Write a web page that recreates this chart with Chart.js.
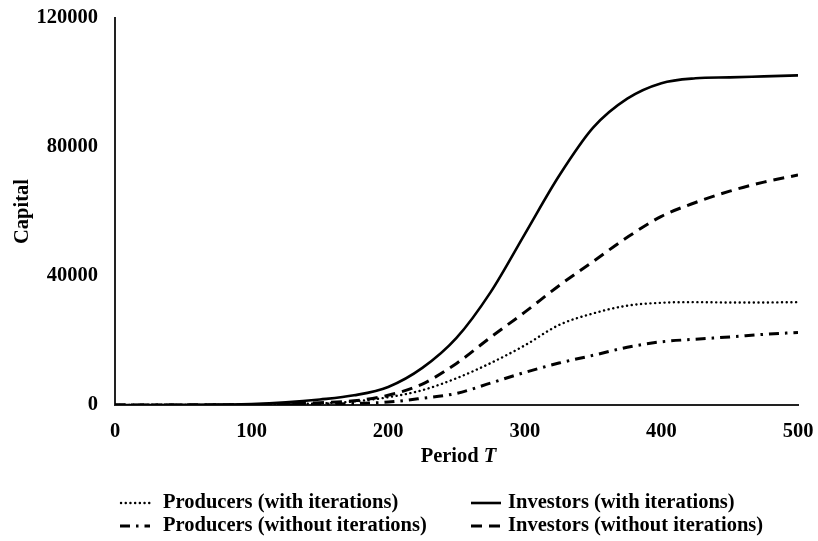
<!DOCTYPE html>
<html>
<head>
<meta charset="utf-8">
<script src="https://cdn.jsdelivr.net/npm/chart.js@4/dist/chart.umd.min.js"></script>
<style>
html,body{margin:0;padding:0;background:#fff;}
#wrap{width:818px;height:541px;position:relative;}
</style>
</head>
<body>
<div id="wrap"><canvas id="c" width="818" height="541"></canvas></div>
<script>
const periods = [0,25,50,75,100,125,150,175,200,225,250,275,300,325,350,375,400,425,450,475,500];
const producersWith = [0,0,0,30,100,250,500,1100,2400,4600,8300,13000,18500,24800,28400,30800,31700,31900,31800,31800,31900];
const producersWithout = [0,0,0,0,50,100,250,500,900,2100,3600,6800,10100,13000,15400,17900,19600,20400,21100,21900,22500];
const investorsWith = [0,0,50,150,300,800,1700,3000,5600,11500,20800,35000,53000,71000,86000,95000,99800,101300,101600,101900,102200];
const investorsWithout = [0,0,0,50,150,350,700,1300,3000,6500,12900,21000,28800,37000,44500,52000,58500,62800,66300,69100,71300];
const seriesNames = ['Producers (with iterations)','Producers (without iterations)','Investors (with iterations)','Investors (without iterations)'];
const xTicks = [0,100,200,300,400,500];
const yTicks = [0,40000,80000,120000];
const xTitle = 'Period ';
const xTitleItalic = 'T';
const yTitle = 'Capital';

const FONT = "'Liberation Serif','Times New Roman',serif";
const FS = 20.5;
function pts(arr){ return periods.map((p,i)=>({x:p,y:arr[i]})); }

const styles = [
  {borderDash:[0.1,4.6], borderWidth:2.4, lineCap:'round'},
  {borderDash:[10,6,2.5,6], borderWidth:3, lineCap:'butt'},
  {borderDash:[], borderWidth:2.6, lineCap:'butt'},
  {borderDash:[11,7], borderWidth:3, lineCap:'butt'}
];
const dataArrays = [producersWith, producersWithout, investorsWith, investorsWithout];

const datasets = dataArrays.map((arr,i)=>({
  label: seriesNames[i],
  data: pts(arr),
  borderColor:'#000',
  backgroundColor:'#000',
  borderWidth: styles[i].borderWidth,
  borderDash: styles[i].borderDash,
  borderCapStyle: styles[i].lineCap,
  pointRadius:0,
  cubicInterpolationMode:'monotone',
  fill:false
}));

const customPlugin = {
  id:'custom',
  afterDraw(chart){
    const ctx = chart.ctx;
    const area = chart.chartArea;
    ctx.save();
    ctx.fillStyle = '#000';
    ctx.font = "bold " + FS + "px " + FONT;
    ctx.textAlign = 'center';
    ctx.textBaseline = 'middle';
    ctx.save();
    ctx.translate(23, 211.5);
    ctx.rotate(-Math.PI/2);
    ctx.fillText(yTitle, 0, 0);
    ctx.restore();
    ctx.font = "bold " + FS + "px " + FONT;
    const w1 = ctx.measureText(xTitle).width;
    ctx.font = "italic bold " + FS + "px " + FONT;
    const w2 = ctx.measureText(xTitleItalic).width;
    const cx = (area.left + area.right)/2 + 2;
    let sx = cx - (w1+w2)/2;
    ctx.textAlign = 'left';
    ctx.font = "bold " + FS + "px " + FONT;
    ctx.fillText(xTitle, sx, 457);
    ctx.font = "italic bold " + FS + "px " + FONT;
    ctx.fillText(xTitleItalic, sx + w1, 457);
    const pos = [
      {x0:121, x1:150, tx:163, y:503},
      {x0:120, x1:150, tx:163, y:526},
      {x0:471, x1:501, tx:508, y:503},
      {x0:471, x1:501, tx:508, y:526}
    ];
    chart.data.datasets.forEach((ds,i)=>{
      const p = pos[i];
      ctx.beginPath();
      ctx.setLineDash(ds.borderDash || []);
      ctx.lineWidth = ds.borderWidth;
      ctx.lineCap = ds.borderCapStyle;
      ctx.strokeStyle = '#000';
      ctx.moveTo(p.x0, p.y);
      ctx.lineTo(p.x1, p.y);
      ctx.stroke();
      ctx.setLineDash([]);
      ctx.font = "bold " + FS + "px " + FONT;
      ctx.textAlign = 'left';
      ctx.textBaseline = 'middle';
      ctx.fillText(ds.label, p.tx, p.y);
    });
    ctx.restore();
  }
};

new Chart(document.getElementById('c'), {
  type:'line',
  data:{datasets},
  options:{
    responsive:false,
    animation:false,
    events:[],
    layout:{padding:{top:18,right:20,bottom:0,left:0}},
    plugins:{legend:{display:false},tooltip:{enabled:false},title:{display:false}},
    scales:{
      x:{
        type:'linear',
        min:0,max:500,
        afterBuildTicks(s){ s.ticks = xTicks.map(v=>({value:v})); },
        afterFit(s){ s.height = 136; s.paddingLeft = 0; s.paddingRight = 0; },
        grid:{display:false,drawTicks:false},
        border:{display:true,color:'#222',width:2},
        ticks:{color:'#000',padding:14,font:{family:FONT,size:FS,weight:'bold'},maxRotation:0,autoSkip:false}
      },
      y:{
        min:0,max:120000,
        afterBuildTicks(s){ s.ticks = yTicks.map(v=>({value:v})); },
        afterFit(s){ s.width = 115; s.paddingTop = 0; s.paddingBottom = 0; },
        grid:{display:false,drawTicks:false},
        border:{display:true,color:'#222',width:2},
        ticks:{color:'#000',padding:17,font:{family:FONT,size:FS,weight:'bold'},autoSkip:false,callback:v=>String(v)}
      }
    }
  },
  plugins:[customPlugin]
});
</script>
</body>
</html>
